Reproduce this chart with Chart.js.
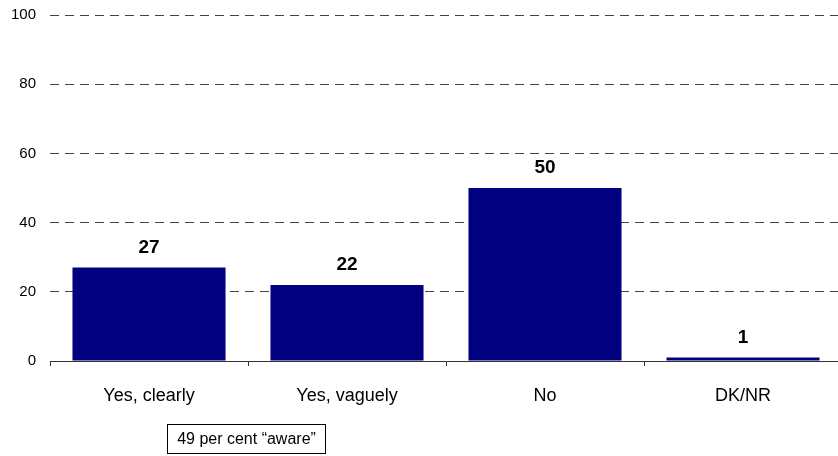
<!DOCTYPE html>
<html>
<head>
<meta charset="utf-8">
<script src="https://cdn.jsdelivr.net/npm/chart.js@4/dist/chart.umd.min.js"></script>
<style>
  html, body { margin: 0; padding: 0; background: #fff; overflow: hidden; }
  /* plot runs a few px past the right edge, like the original */
  #wrap { width: 842px; height: 456px; position: relative; }
</style>
</head>
<body>
<div id="wrap"><canvas id="chart"></canvas></div>
<script>
// Data
const categories = ['Yes, clearly', 'Yes, vaguely', 'No', 'DK/NR'];
const values = [27, 22, 50, 1];
const yTicks = [0, 20, 40, 60, 80, 100];
const noteText = '49 per cent \u201Caware\u201D';

// Writes the value above each bar
const barValues = {
  id: 'barValues',
  afterDatasetsDraw(chart) {
    const ctx = chart.ctx;
    const meta = chart.getDatasetMeta(0);
    ctx.save();
    ctx.font = 'bold 19px "Liberation Sans", Arial, sans-serif';
    ctx.fillStyle = '#000';
    ctx.textAlign = 'center';
    ctx.textBaseline = 'middle';
    meta.data.forEach((bar, i) => {
      ctx.fillText(String(values[i]), bar.x, bar.y - 20);
    });
    ctx.restore();
  }
};

// The boxed note under the first two categories
const noteBox = {
  id: 'noteBox',
  afterDraw(chart) {
    const ctx = chart.ctx;
    ctx.save();
    ctx.strokeStyle = '#000';
    ctx.lineWidth = 1;
    ctx.strokeRect(167.5, 424.5, 158, 29);
    ctx.font = '16px "Liberation Sans", Arial, sans-serif';
    ctx.fillStyle = '#000';
    ctx.textAlign = 'center';
    ctx.textBaseline = 'middle';
    ctx.fillText(noteText, 246.5, 439.5);
    ctx.restore();
  }
};

new Chart(document.getElementById('chart'), {
  type: 'bar',
  data: {
    labels: categories,
    datasets: [{
      data: values,
      backgroundColor: '#000080',
      borderWidth: 0,
      categoryPercentage: 1,
      barPercentage: 0.773
    }]
  },
  options: {
    responsive: true,
    maintainAspectRatio: false,
    animation: false,
    layout: { padding: { top: 15, right: 0, bottom: 0, left: 0 } },
    plugins: {
      legend: { display: false },
      tooltip: { enabled: false }
    },
    scales: {
      x: {
        afterFit(scale) { scale.height = 95; },
        border: { display: true, color: '#333', width: 1 },
        grid: {
          offset: true,
          drawOnChartArea: false,
          drawTicks: true,
          tickLength: 5,
          color: '#333'
        },
        ticks: {
          color: '#000',
          padding: 19,
          font: { family: '"Liberation Sans", Arial, sans-serif', size: 18 }
        }
      },
      y: {
        min: 0,
        max: 100,
        afterFit(scale) {
          scale.width = 50;
          scale.paddingTop = 0;
          scale.paddingBottom = 0;
        },
        afterBuildTicks(scale) { scale.ticks = yTicks.map(v => ({ value: v })); },
        border: { display: false, dash: [9, 6] },
        grid: {
          drawTicks: false,
          color: ctx => (ctx.tick && ctx.tick.value === 0) ? 'rgba(0,0,0,0)' : '#444',
          lineWidth: 1
        },
        ticks: {
          color: '#000',
          padding: 14,
          font: { family: '"Liberation Sans", Arial, sans-serif', size: 15 }
        }
      }
    }
  },
  plugins: [barValues, noteBox]
});
</script>
</body>
</html>
